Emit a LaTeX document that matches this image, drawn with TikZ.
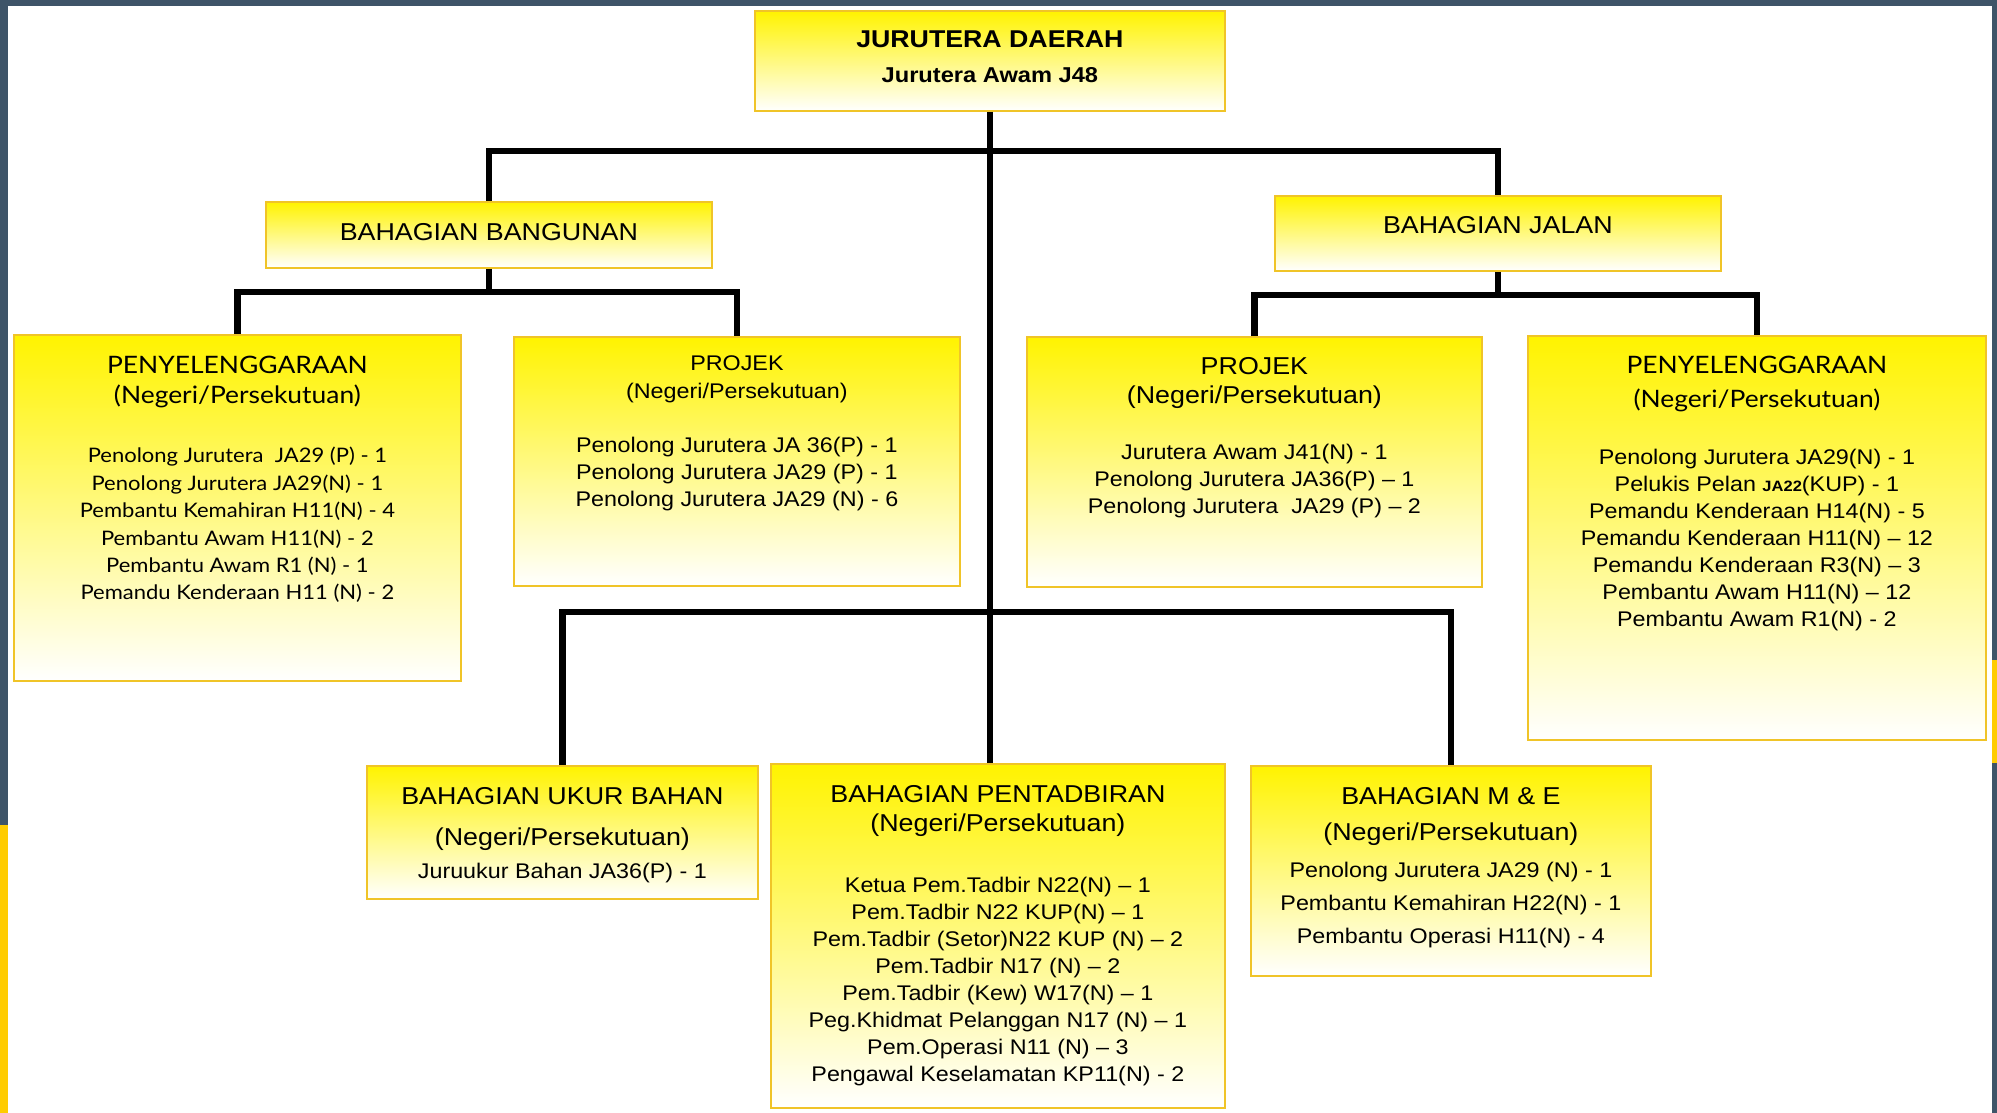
\documentclass[tikz,border=0pt]{standalone}
\usepackage{fontspec}
\setmainfont{Liberation Sans}[FakeStretch=1.1]
\newfontfamily\gillfont{Lato}[FakeStretch=1.1]
\definecolor{slate}{RGB}{62,84,104}
\definecolor{accent}{RGB}{255,204,0}
\definecolor{boxyellow}{RGB}{255,243,0}
\definecolor{boxgold}{RGB}{240,196,40}
\tikzset{
  orgbox/.style={draw=boxgold,line width=1.8pt,top color=boxyellow,middle color=boxyellow!45!white,bottom color=white,inner sep=0pt,anchor=north west},
  link/.style={line width=6.5pt}
}
\newcommand{\orgrow}[2]{\rule{0pt}{#1pt}\smash{#2}\\}
\newcommand{\orgbody}[3]{\parbox[c][#2pt][t]{#1pt}{\centering\offinterlineskip #3}}
\newcommand{\hdsize}{\fontsize{24.4}{26}\selectfont}
\newcommand{\lssize}{\fontsize{21.2}{23}\selectfont}
\newcommand{\gillhd}{\gillfont\fontsize{24}{26}\selectfont}
\newcommand{\gillls}{\gillfont\fontsize{20}{22}\selectfont}

\begin{document}
\begin{tikzpicture}[x=1pt,y=-1pt]
\useasboundingbox (0,0) rectangle (1997,1113);
\fill[slate] (0,0) rectangle (1997,1113);
\fill[white] (8,6) rectangle (1992,1113);
\fill[accent] (0,825) rectangle (8,1113);
\fill[accent] (1992,660) rectangle (1997,763);

\node[orgbox] (jd) at (754,10) {\orgbody{470}{100}{%
  \orgrow{37}{\bfseries\fontsize{24.3}{26}\selectfont JURUTERA DAERAH}
  \orgrow{35}{\bfseries\fontsize{21.5}{23}\selectfont Jurutera Awam J48}}};
\node[orgbox] (bgn) at (265,201) {\orgbody{446}{66}{%
  \orgrow{39}{\hdsize BAHAGIAN BANGUNAN}}};
\node[orgbox] (jln) at (1274,195) {\orgbody{446}{75}{%
  \orgrow{38}{\hdsize BAHAGIAN JALAN}}};

\node[orgbox] (penyL) at (13,334) {\orgbody{447}{346}{%
  \orgrow{39}{\gillhd PENYELENGGARAAN}
  \orgrow{30}{\gillhd (Negeri/Persekutuan)}
  \orgrow{59}{\gillls Penolong Jurutera~~JA29 (P) - 1}
  \orgrow{27.4}{\gillls Penolong Jurutera JA29(N) - 1}
  \orgrow{27.4}{\gillls Pembantu Kemahiran H11(N) - 4}
  \orgrow{27.4}{\gillls Pembantu Awam H11(N) - 2}
  \orgrow{27.4}{\gillls Pembantu Awam R1~(N) - 1}
  \orgrow{27.4}{\gillls Pemandu Kenderaan H11 (N) - 2}}};
\node[orgbox] (projL) at (513,336) {\orgbody{446}{249}{%
  \orgrow{34}{\lssize PROJEK}
  \orgrow{28}{\lssize (Negeri/Persekutuan)}
  \orgrow{54}{\lssize Penolong Jurutera JA 36(P) - 1}
  \orgrow{26.7}{\lssize Penolong Jurutera JA29 (P) - 1}
  \orgrow{26.7}{\lssize Penolong Jurutera JA29 (N) - 6}}};
\node[orgbox] (projR) at (1026,336) {\orgbody{455}{250}{%
  \orgrow{38}{\hdsize PROJEK}
  \orgrow{29}{\hdsize (Negeri/Persekutuan)}
  \orgrow{56}{\lssize Jurutera Awam J41(N) - 1}
  \orgrow{27}{\lssize Penolong Jurutera JA36(P) – 1}
  \orgrow{27}{\lssize Penolong Jurutera~~JA29 (P) – 2}}};
\node[orgbox] (penyR) at (1527,335) {\orgbody{458}{404}{%
  \orgrow{38}{\gillhd PENYELENGGARAAN}
  \orgrow{34}{\gillhd (Negeri/Persekutuan)}
  \orgrow{57}{\lssize Penolong Jurutera JA29(N) - 1}
  \orgrow{27}{\lssize Pelukis Pelan {\bfseries\fontsize{15}{16}\selectfont JA22}(KUP) - 1}
  \orgrow{27}{\lssize Pemandu Kenderaan H14(N) - 5}
  \orgrow{27}{\lssize Pemandu Kenderaan H11(N) – 12}
  \orgrow{27}{\lssize Pemandu Kenderaan R3(N) – 3}
  \orgrow{27}{\lssize Pembantu Awam H11(N) – 12}
  \orgrow{27}{\lssize Pembantu Awam R1(N) - 2}}};

\node[orgbox] (ukur) at (366,765) {\orgbody{391}{133}{%
  \orgrow{39}{\hdsize BAHAGIAN UKUR BAHAN}
  \orgrow{41}{\hdsize (Negeri/Persekutuan)}
  \orgrow{33}{\lssize Juruukur Bahan JA36(P) - 1}}};
\node[orgbox] (pent) at (770,763) {\orgbody{454}{344}{%
  \orgrow{39}{\hdsize BAHAGIAN PENTADBIRAN}
  \orgrow{29}{\hdsize (Negeri/Persekutuan)}
  \orgrow{61}{\lssize Ketua Pem.Tadbir N22(N) – 1}
  \orgrow{26.9}{\lssize Pem.Tadbir N22 KUP(N) – 1}
  \orgrow{26.9}{\lssize Pem.Tadbir (Setor)N22 KUP (N) – 2}
  \orgrow{26.9}{\lssize Pem.Tadbir N17 (N) – 2}
  \orgrow{26.9}{\lssize Pem.Tadbir (Kew) W17(N) – 1}
  \orgrow{26.9}{\lssize Peg.Khidmat Pelanggan N17 (N) – 1}
  \orgrow{26.9}{\lssize Pem.Operasi N11 (N) – 3}
  \orgrow{26.9}{\lssize Pengawal Keselamatan KP11(N) - 2}}};
\node[orgbox] (me) at (1250,765) {\orgbody{400}{210}{%
  \orgrow{39}{\hdsize BAHAGIAN M \& E}
  \orgrow{36}{\hdsize (Negeri/Persekutuan)}
  \orgrow{37}{\lssize Penolong Jurutera JA29 (N) - 1}
  \orgrow{33}{\lssize Pembantu Kemahiran H22(N) - 1}
  \orgrow{33}{\lssize Pembantu Operasi H11(N) - 4}}};

\coordinate (hub) at ([yshift=-39pt]jd.south);
\coordinate (bgnhub) at ([yshift=-23pt]bgn.south);
\coordinate (jlnhub) at ([yshift=-23pt]jln.south);
\coordinate (lowhub) at ([yshift=-500pt]jd.south);
\draw[link] (jd.south) -- (jd.south |- pent.north);
\draw[link] (bgn.north) |- (hub) -| (jln.north);
\draw[link] (bgn.south) -- (bgnhub);
\draw[link] (penyL.north) |- (bgnhub) -| (projL.north);
\draw[link] (jln.south) -- (jlnhub);
\draw[link] (projR.north) |- (jlnhub) -| (penyR.north);
\draw[link] (ukur.north) |- (lowhub) -| (me.north);
\end{tikzpicture}
\end{document}
